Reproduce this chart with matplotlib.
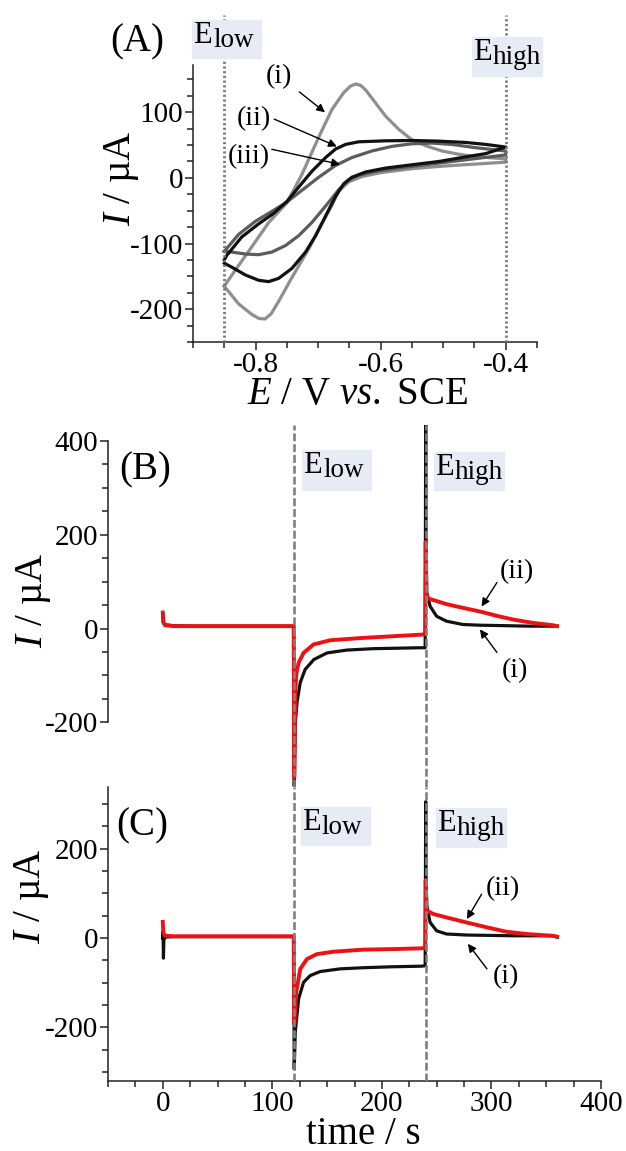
import matplotlib
matplotlib.use('Agg')
import numpy as np
import matplotlib.pyplot as plt
from matplotlib.patches import Rectangle
from matplotlib.ticker import MultipleLocator, FixedLocator

# ---- (A) cyclic voltammograms, E / V vs SCE and I / uA ----
E_i = [-0.850, -0.832, -0.806, -0.779, -0.750, -0.726, -0.699, -0.678, -0.659, -0.648,
       -0.640, -0.632, -0.624, -0.608, -0.592, -0.571, -0.550, -0.528, -0.502, -0.475,
       -0.443, -0.400,
       -0.400, -0.450, -0.500, -0.550, -0.600, -0.630, -0.651, -0.667, -0.678, -0.694,
       -0.715, -0.742, -0.763, -0.775, -0.785, -0.795, -0.806, -0.827, -0.850]
I_i = [-165, -140, -105, -68, -38, 5, 62, 104, 130, 140,
       143, 141, 134, 114, 94, 74, 58, 49, 41, 36,
       32, 29,
       24, 21, 18, 14, 8, 2, -6, -20, -42, -70,
       -108, -152, -188, -207, -215, -214, -208, -192, -165]

E_ii = [-0.850, -0.846, -0.822, -0.795, -0.771, -0.750, -0.731, -0.710, -0.688, -0.672,
        -0.656, -0.635, -0.592, -0.550, -0.507, -0.464, -0.432, -0.400,
        -0.400, -0.432, -0.464, -0.507, -0.550, -0.592, -0.624, -0.646, -0.659, -0.672,
        -0.688, -0.704, -0.720, -0.742, -0.763, -0.779, -0.795, -0.816, -0.838, -0.850]
I_ii = [-125, -118, -90, -70, -54, -36, -14, 10, 31, 44,
        51, 55, 56.5, 57, 56, 54, 51, 47,
        47, 37, 32, 25, 20, 15, 9, 1, -9, -28,
        -58, -88, -113, -138, -153, -158, -156, -148, -136, -130]

E_iii = [-0.850, -0.827, -0.800, -0.774, -0.750, -0.726, -0.699, -0.672, -0.646, -0.614,
         -0.582, -0.550, -0.518, -0.486, -0.448, -0.400,
         -0.400, -0.443, -0.486, -0.528, -0.571, -0.608, -0.635, -0.651, -0.667, -0.688,
         -0.710, -0.731, -0.752, -0.774, -0.795, -0.816, -0.838, -0.850]
I_iii = [-112, -86, -66, -51, -37, -19, 1, 19, 31, 41,
         48, 52, 53, 51, 46, 41,
         35, 30, 25, 20, 15, 10, 4, -3, -18, -43,
         -68, -88, -103, -113, -117, -116, -113, -112]

E_low, E_high = -0.85, -0.40

# ---- (B) chronoamperometry, time / s and I / uA ----
tB_i = [0, 0.5, 2, 10, 30, 60, 90, 119.5, 120, 120.5, 121, 122.5, 125.5, 130, 138, 150,
        168, 192, 214, 236, 239.5, 240, 240.3, 241, 244, 250, 259, 274, 290, 305, 335, 360]
IB_i = [30, 12, 8, 6, 5, 5, 5, 5, -336, -264, -200, -158, -115, -87, -66, -52,
        -46, -43, -42, -41, -41, 440, 200, 76, 47.5, 26, 15.6, 8.5, 7, 6.4, 5, 5]
tB_ii = [0, 0.5, 2, 10, 60, 119.5, 120, 120.5, 121, 122, 124, 128.5, 137.6, 152.8, 183,
         213.5, 236.4, 239.5, 240, 240.5, 242.4, 259, 274, 290, 305, 320, 338, 356, 360]
IB_ii = [34, 15, 7, 5, 5, 5, -317, -200, -131, -95, -73, -52, -34, -25, -20,
         -16, -13, -12, 185, 75, 64, 52, 44, 36, 27, 19, 12, 7, 5]

# ---- (C) chronoamperometry ----
tC_i = [0, 0.3, 0.6, 1, 2, 10, 60, 119.5, 120, 120.9, 124, 128.5, 134.6, 143.7, 162, 183,
        207, 236.4, 239.5, 240, 240.3, 241, 244, 250, 259, 277, 320, 356, 360]
IC_i = [0, 15, -45, -5, 2, 3, 3, 3, -293, -211, -136, -99, -84, -75, -69, -66.5,
        -64.5, -63, -62, 305, 132, 72, 35, 16, 9, 6.7, 5, 5, 2]
tC_ii = [0, 0.5, 2, 10, 60, 119.5, 120, 121.8, 125.5, 131.6, 140.7, 155.9, 183, 213.5,
         236.4, 239.5, 240, 240.5, 241, 247, 259, 277, 295.6, 313.8, 332, 356, 360]
IC_ii = [36, 12, 5, 4, 4, 4, -192, -121, -69, -47, -36, -30.6, -26, -24.6,
         -23, -22, 130, 75, 61, 53.7, 46, 35, 24, 14, 9, 5, 3]

t_low, t_high = 120, 240

plt.rcParams['font.family'] = ['Liberation Serif', 'DejaVu Serif']
plt.rcParams['mathtext.fontset'] = 'custom'
plt.rcParams['mathtext.rm'] = 'Liberation Serif'
plt.rcParams['mathtext.it'] = 'Liberation Serif:italic'
plt.rcParams['axes.unicode_minus'] = False

W, H = 626, 1151
fig = plt.figure(figsize=(W / 100, H / 100), dpi=100)


def rect(l, t, r, b):
    return [l / W, 1 - b / H, (r - l) / W, (b - t) / H]


def style(ax):
    for s in ['top', 'right']:
        ax.spines[s].set_visible(False)
    for s in ['left', 'bottom']:
        ax.spines[s].set_linewidth(1.1)
        ax.spines[s].set_color('#222222')
    ax.tick_params(which='major', direction='out', length=6, width=1.1,
                   labelsize=21, pad=1, color='#222222')
    ax.tick_params(which='minor', direction='out', length=4, width=1.1, color='#222222')


def ebox(l, t, r, b, sub):
    fig.patches.append(Rectangle((l / W, 1 - b / H), (r - l) / W, (b - t) / H,
                                 transform=fig.transFigure, color='#e6ebf5', zorder=0))
    fig.text((l + 1) / W, 1 - (t + 23) / H, 'E', fontsize=22, va='baseline', ha='left')
    fig.text((l + 21) / W, 1 - (t + 27) / H, sub, fontsize=19.5, va='baseline', ha='left')


# ---------------- (A) ----------------
axA = fig.add_axes(rect(193, 65, 537, 342))
style(axA)
axA.plot(E_i, I_i, color='#8f8f8f', lw=2.3, zorder=2)
axA.plot(E_iii, I_iii, color='#5c5c5c', lw=2.3, zorder=3)
axA.plot(E_ii, I_ii, color='#111111', lw=2.3, zorder=4)
for e in [E_low, E_high]:
    axA.axvline(e, ymin=0, ymax=1.18, color='#7a7a7a', lw=2.0, ls=(0, (0.8, 0.9)),
                clip_on=False, zorder=5)
axA.set_xlim(-0.9, -0.35)
axA.set_ylim(-250, 172)
axA.xaxis.set_major_locator(MultipleLocator(0.2))
axA.xaxis.set_minor_locator(MultipleLocator(0.05))
axA.yaxis.set_major_locator(MultipleLocator(100))
axA.yaxis.set_minor_locator(MultipleLocator(25))
axA.set_xlabel(r'$E$ / V $vs.$ SCE', fontsize=28, va='baseline')
axA.xaxis.set_label_coords(0.477, -0.224)
axA.set_ylabel(r'$I$ / µA', fontsize=28, va='center')
axA.yaxis.set_label_coords(-0.209, 0.592)

arr = dict(arrowstyle='-|>', color='k', lw=1.0, mutation_scale=12, shrinkA=0, shrinkB=0)
axA.annotate('', xy=(-0.689, 100), xytext=(-0.730, 131), arrowprops=arr)
axA.annotate('', xy=(-0.670, 48), xytext=(-0.770, 89.5), arrowprops=arr)
axA.annotate('', xy=(-0.665, 20.6), xytext=(-0.774, 43.6), arrowprops=arr)
axA.text(-0.762, 155, '(i)', fontsize=20, ha='center', va='center')
axA.text(-0.802, 91, '(ii)', fontsize=20, ha='center', va='center')
axA.text(-0.810, 33, '(iii)', fontsize=20, ha='center', va='center')

# ---------------- (B) ----------------
axB = fig.add_axes(rect(108, 425, 601, 787))
style(axB)
axB.spines['bottom'].set_visible(False)
axB.spines['left'].set_bounds(-200, 400)
axB.set_xticks([])
axB.plot(tB_i, IB_i, color='#111111', lw=2.3, zorder=2)
axB.plot(tB_ii, IB_ii, color='#ee1111', lw=2.8, zorder=3)
for t in [t_low, t_high]:
    axB.axvline(t, color='#808080', lw=1.9, ls=(0, (3, 1.1)), zorder=5)
axB.set_xlim(-50, 400)
axB.set_ylim(-338, 434)
axB.yaxis.set_major_locator(FixedLocator([-200, 0, 200, 400]))
axB.yaxis.set_minor_locator(FixedLocator(np.arange(-200, 401, 50)))
axB.set_ylabel(r'$I$ / µA', fontsize=28, va='center')
axB.yaxis.set_label_coords(-0.152, 0.517)
axB.annotate('', xy=(291, 47), xytext=(305, 98), arrowprops=arr)
axB.annotate('', xy=(289.5, -2), xytext=(305, -51), arrowprops=arr)
axB.text(323, 121, '(ii)', fontsize=20, ha='center', va='center')
axB.text(321, -89, '(i)', fontsize=20, ha='center', va='center')

# ---------------- (C) ----------------
axC = fig.add_axes(rect(108, 787, 601, 1081))
style(axC)
axC.plot(tC_i, IC_i, color='#111111', lw=2.3, zorder=2)
axC.plot(tC_ii, IC_ii, color='#ee1111', lw=2.8, zorder=3)
for t in [t_low, t_high]:
    axC.axvline(t, color='#808080', lw=1.9, ls=(0, (3, 1.1)), zorder=5)
axC.set_xlim(-50, 400)
axC.set_ylim(-320, 338)
axC.xaxis.set_major_locator(MultipleLocator(100))
axC.xaxis.set_minor_locator(MultipleLocator(25))
axC.yaxis.set_major_locator(MultipleLocator(200))
axC.yaxis.set_minor_locator(MultipleLocator(50))
axC.set_xlabel('time / s', fontsize=28, va='baseline')
axC.xaxis.set_label_coords(0.517, -0.215)
axC.set_ylabel(r'$I$ / µA', fontsize=28, va='center')
axC.yaxis.set_label_coords(-0.156, 0.629)
axC.annotate('', xy=(277.6, 42.5), xytext=(291, 98), arrowprops=arr)
axC.annotate('', xy=(278.5, -13), xytext=(295.9, -69), arrowprops=arr)
axC.text(310.5, 110, '(ii)', fontsize=20, ha='center', va='center')
axC.text(313, -87, '(i)', fontsize=20, ha='center', va='center')

# panel letters and potential boxes
fig.text(137 / W, 1 - 42 / H, '(A)', fontsize=28, ha='center', va='center')
fig.text(145 / W, 1 - 470 / H, '(B)', fontsize=28, ha='center', va='center')
fig.text(142 / W, 1 - 826 / H, '(C)', fontsize=28, ha='center', va='center')
ebox(192, 20, 261, 58, 'low')
ebox(472, 37, 542, 76, 'high')
ebox(302, 450, 371, 490, 'low')
ebox(434, 452, 504, 490, 'high')
ebox(301, 807, 370, 845, 'low')
ebox(436, 808, 506, 847, 'high')

fig.savefig('out.png', dpi=100)
